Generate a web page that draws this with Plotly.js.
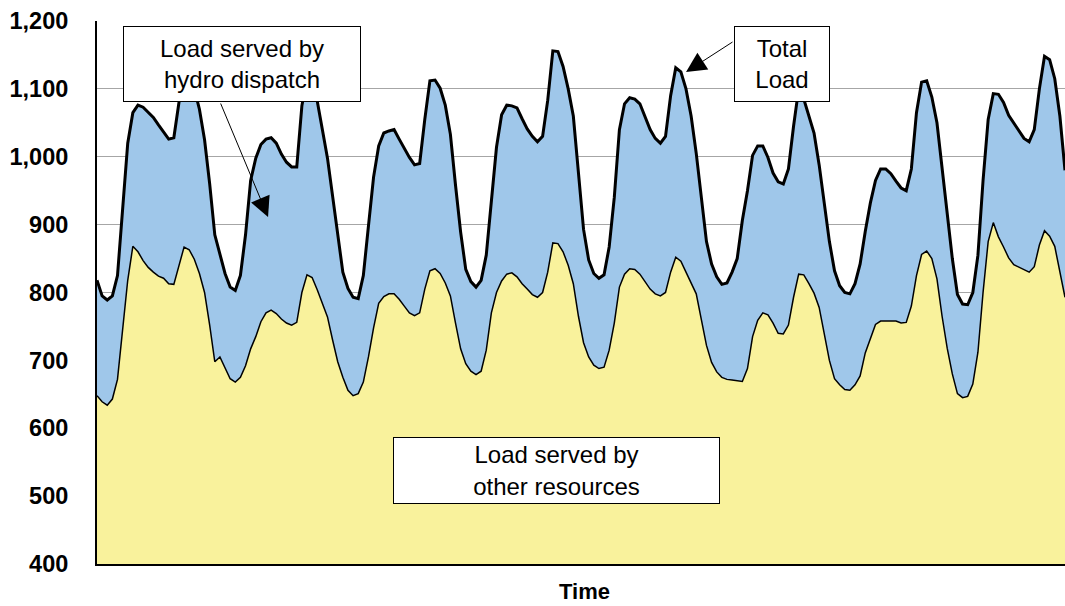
<!DOCTYPE html>
<html>
<head>
<meta charset="utf-8">
<script src="https://cdn.plot.ly/plotly-3.0.1.min.js"></script>
<style>html,body{margin:0;padding:0;background:#fff;}#chart{width:1065px;height:606px;}</style>
</head>
<body>
<div id="chart"></div>
<script>
// Hourly load (MW)
const totalLoad = [
818,795,789,795,825,930,1020,1065,1076,1073,1066,1058,1047,1036,1026,1028,1080,1115,1120,1100,
1070,1025,960,885,855,828,808,803,825,885,965,998,1018,1026,1028,1020,1004,992,985,985,
1075,1115,1110,1082,1040,998,942,885,830,806,793,791,825,898,970,1016,1035,1038,1040,1026,
1012,999,988,990,1055,1112,1113,1101,1076,1033,958,889,834,816,808,818,855,938,1014,1062,
1076,1075,1072,1056,1041,1030,1022,1030,1083,1156,1155,1133,1100,1060,975,893,848,828,821,826,
867,940,1040,1078,1087,1085,1078,1058,1040,1027,1020,1030,1090,1131,1125,1100,1060,1005,938,875,
842,823,812,814,830,850,906,950,1002,1016,1016,999,976,963,960,982,1045,1100,1085,1060,
1035,988,934,875,832,810,800,798,813,842,890,932,965,982,982,975,964,954,950,982,
1065,1110,1112,1088,1050,985,915,850,797,783,782,800,855,965,1055,1093,1092,1080,1061,1049,
1038,1027,1022,1040,1100,1148,1143,1115,1060,980
];
const otherResources = [
648,639,634,643,672,750,818,868,860,847,837,830,824,821,813,812,841,867,863,849,
828,800,752,698,705,688,673,668,675,692,717,735,757,770,774,769,761,755,752,756,
800,826,822,804,785,764,730,698,675,656,648,651,668,705,748,784,794,798,798,790,
780,770,766,770,805,832,835,828,814,795,755,717,695,684,679,684,715,770,800,817,
827,829,823,813,805,797,793,800,830,873,872,860,840,813,765,726,705,693,688,690,
715,755,808,827,835,834,827,815,805,798,795,800,830,852,846,830,815,798,760,722,
697,683,675,672,671,670,669,688,735,759,770,767,755,740,739,752,793,827,826,813,
799,778,740,700,673,664,657,656,664,677,711,733,753,758,758,759,758,755,756,780,
825,856,861,850,820,765,718,680,651,645,647,665,712,800,875,903,882,867,851,841,
837,834,830,838,870,891,883,868,830,793
];
const hours = totalLoad.map((_, i) => i);
const yTicks = [400, 500, 600, 700, 800, 900, 1000, 1100, 1200];
const labelHydro = 'Load served by<br>hydro dispatch';
const labelTotal = 'Total<br>Load';
const labelOther = 'Load served by<br>other resources';
const axisTitle = 'Time';

const FONT = 'Liberation Sans, Arial, sans-serif';

const traces = [
  {
    x: hours, y: otherResources, type: 'scatter', mode: 'lines',
    fill: 'tozeroy', fillcolor: '#F9F29C',
    line: {color: '#000', width: 1.5},
    hoverinfo: 'skip', showlegend: false
  },
  {
    x: hours, y: totalLoad, type: 'scatter', mode: 'lines',
    fill: 'tonexty', fillcolor: '#9FC7EA',
    line: {color: '#000', width: 3},
    hoverinfo: 'skip', showlegend: false
  }
];

const boxStyle = {
  xref: 'paper', yref: 'paper', showarrow: false,
  xanchor: 'center', yanchor: 'middle',
  bgcolor: '#fff', bordercolor: '#000', borderwidth: 1, borderpad: 0,
  font: {family: FONT, size: 24, color: '#000'}, align: 'center'
};

const layout = {
  width: 1065, height: 606,
  margin: {l: 97, r: 0, t: 21, b: 42},
  paper_bgcolor: '#fff', plot_bgcolor: '#fff',
  xaxis: {
    range: [0, hours.length - 1], showticklabels: false, ticks: '',
    showgrid: false, zeroline: false,
    showline: true, linecolor: '#000', linewidth: 2
  },
  yaxis: {
    range: [400, 1200], tickvals: yTicks, tickformat: ',',
    ticks: 'outside', ticklen: 22, tickcolor: 'rgba(0,0,0,0)',
    tickfont: {family: FONT, size: 23.5, color: '#000', weight: 'bold'},
    showgrid: true, gridcolor: '#A6A6A6', gridwidth: 1,
    zeroline: false, showline: true, linecolor: '#000', linewidth: 2
  },
  annotations: [
    Object.assign({}, boxStyle, {text: labelHydro, x: 0.1498, y: 0.9208, width: 236, height: 74}),
    Object.assign({}, boxStyle, {text: labelTotal, x: 0.7076, y: 0.9208, width: 94, height: 74}),
    Object.assign({}, boxStyle, {text: labelOther, x: 0.4747, y: 0.1722, width: 325, height: 65}),
    {xref: 'paper', yref: 'paper', x: 0.1767, y: 0.639, ax: -48, ay: -115, text: '',
     showarrow: true, arrowhead: 2, arrowsize: 4, arrowwidth: 1, arrowcolor: '#000'},
    {xref: 'paper', yref: 'paper', x: 0.6085, y: 0.906, ax: 48, ay: -31, text: '',
     showarrow: true, arrowhead: 2, arrowsize: 4, arrowwidth: 1, arrowcolor: '#000'},
    {xref: 'paper', yref: 'paper', x: 0.504, y: -0.05, text: '<b>' + axisTitle + '</b>',
     xanchor: 'center', showarrow: false, font: {family: FONT, size: 22, color: '#000'}, yanchor: 'middle'}
  ]
};

Plotly.newPlot('chart', traces, layout, {displayModeBar: false, staticPlot: true});
</script>
</body>
</html>
